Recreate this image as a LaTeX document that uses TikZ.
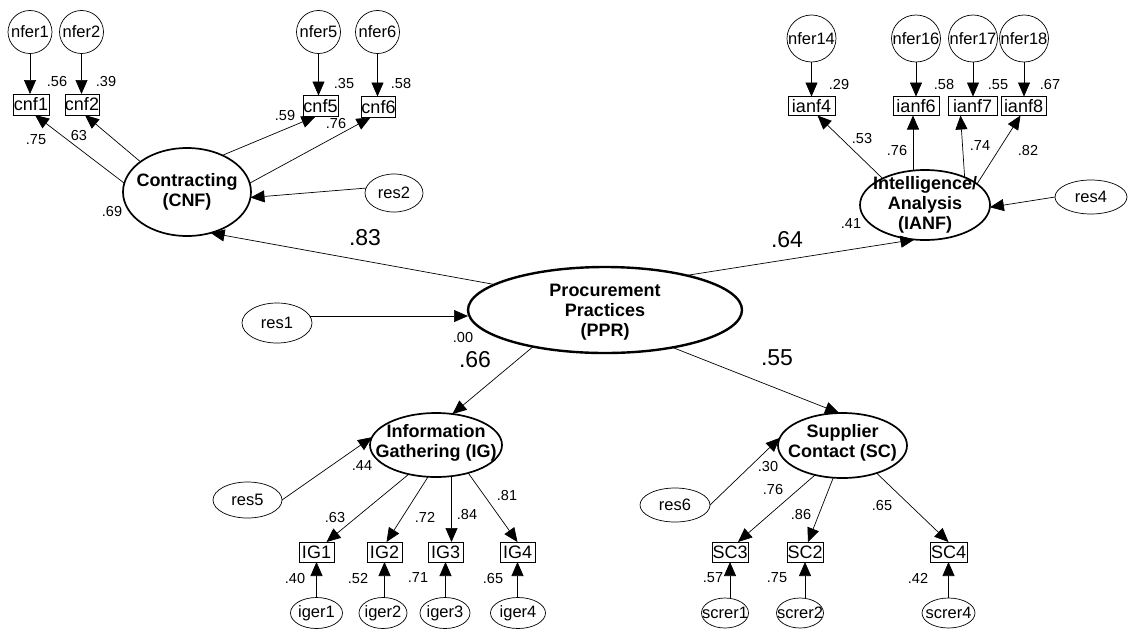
\documentclass[tikz,border=0pt]{standalone}
\usepackage{fontspec}
\setmainfont{Liberation Sans}
\usetikzlibrary{shapes.geometric,arrows.meta}
\begin{document}
\begin{tikzpicture}[x=1pt,y=-1pt,
  every node/.style={inner sep=0pt, outer sep=0pt},
  lat/.style={ellipse, draw, line width=1.7pt},
  ppr/.style={ellipse, draw, line width=2.4pt},
  ltxt/.style={font=\fontsize{18}{20}\selectfont\bfseries, align=center},
  err/.style={ellipse, draw, line width=0.7pt},
  etxt/.style={font=\fontsize{16.5}{18}\selectfont},
  obs/.style={rectangle, draw, line width=0.7pt, font=\fontsize{18}{19}\selectfont},
  coef/.style={font=\fontsize{14.5}{15}\selectfont},
  big/.style={font=\fontsize{23}{24}\selectfont},
  arr/.style={line width=0.7pt, -{Triangle[length=14pt,width=12pt]}},
]
\useasboundingbox[fill=white] (0,0) rectangle (1131,635);

% ---------- latent variables ----------
\node[lat, minimum width=128pt, minimum height=88pt] (CNF) at (187,192) {};
\node[ltxt] at (CNF) {Contracting\\(CNF)};
\node[lat, minimum width=130pt, minimum height=70pt] (IANF) at (925,205) {};
\node[ltxt] at (IANF) {Intelligence/\\Analysis\\(IANF)};
\node[ppr, minimum width=274pt, minimum height=86pt] (PPR) at (605,310) {};
\node[ltxt] at (605,312) {Procurement\\Practices\\(PPR)};
\node[lat, minimum width=132pt, minimum height=64pt] (IG) at (436,445) {};
\node[ltxt] at (436,443) {Information\\Gathering (IG)};
\node[lat, minimum width=129pt, minimum height=65pt] (SC) at (842.5,445.5) {};
\node[ltxt] at (842.5,443) {Supplier\\Contact (SC)};

% ---------- residuals ----------
\node[err, minimum width=70pt, minimum height=40pt] (res1) at (277,323) {};
\node[etxt] at (res1) {res1};
\node[err, minimum width=58pt, minimum height=38pt] (res2) at (394,193) {};
\node[etxt] at (res2) {res2};
\node[err, minimum width=72pt, minimum height=34pt] (res4) at (1091,197) {};
\node[etxt] at (res4) {res4};
\node[err, minimum width=69pt, minimum height=36pt] (res5) at (247.5,500) {};
\node[etxt] at (res5) {res5};
\node[err, minimum width=70pt, minimum height=34pt] (res6) at (675,505) {};
\node[etxt] at (res6) {res6};

% ---------- contracting indicators ----------
\foreach \n/\x in {nfer1/30, nfer2/81.5, nfer5/318.5, nfer6/377.5}{
  \node[err, minimum width=44pt, minimum height=43pt] (\n) at (\x,32) {};
  \node[etxt] at (\n) {\n};
}
\node[obs, minimum width=36pt, minimum height=21pt] (cnf1) at (31,104.5) {cnf1};
\node[obs, minimum width=34pt, minimum height=21pt] (cnf2) at (82,104.5) {cnf2};
\node[obs, minimum width=35pt, minimum height=21pt] (cnf5) at (320.5,106) {cnf5};
\node[obs, minimum width=34pt, minimum height=21pt] (cnf6) at (378.5,107) {cnf6};

% ---------- intelligence indicators ----------
\foreach \n/\x in {nfer14/811.5, nfer16/916, nfer17/973, nfer18/1024}{
  \node[err, minimum width=49pt, minimum height=47pt] (\n) at (\x,38.5) {};
  \node[etxt] at (\n) {\n};
}
\node[obs, minimum width=47pt, minimum height=19pt] (ianf4) at (811.5,106) {ianf4};
\node[obs, minimum width=46pt, minimum height=19pt] (ianf6) at (916,106) {ianf6};
\node[obs, minimum width=49pt, minimum height=19pt] (ianf7) at (972.5,106) {ianf7};
\node[obs, minimum width=45pt, minimum height=19pt] (ianf8) at (1023.5,106) {ianf8};

% ---------- information gathering indicators ----------
\node[obs, minimum width=35pt, minimum height=20pt] (IG1) at (316.5,552) {IG1};
\node[obs, minimum width=35pt, minimum height=20pt] (IG2) at (384.5,552) {IG2};
\node[obs, minimum width=35pt, minimum height=20pt] (IG3) at (445.5,552) {IG3};
\node[obs, minimum width=35pt, minimum height=20pt] (IG4) at (517.5,552) {IG4};
\foreach \n/\x/\w in {iger1/316.5/52, iger2/383/48, iger3/445/50, iger4/518/55}{
  \node[err, minimum width=\w pt, minimum height=31pt] (\n) at (\x,613) {};
  \node[etxt] at (\n) {\n};
}

% ---------- supplier contact indicators ----------
\node[obs, minimum width=36pt, minimum height=20pt] (SC3) at (730,552) {SC3};
\node[obs, minimum width=36pt, minimum height=20pt] (SC2) at (805,552) {SC2};
\node[obs, minimum width=37pt, minimum height=20pt] (SC4) at (948.5,552) {SC4};
\foreach \n/\x/\w in {screr1/725/47, screr2/800/47, screr4/948.5/53}{
  \node[err, minimum width=\w pt, minimum height=30pt] (\n) at (\x,613) {};
  \node[etxt] at (\n) {\n};
}

% ---------- error -> indicator arrows ----------
\foreach \e/\o in {nfer1/cnf1, nfer2/cnf2, nfer5/cnf5, nfer6/cnf6,
                   nfer14/ianf4, nfer16/ianf6, nfer17/ianf7, nfer18/ianf8}
  \draw[arr] (\e.south) -- (\e.south |- \o.north);
\foreach \e/\o in {iger1/IG1, iger2/IG2, iger3/IG3, iger4/IG4,
                   screr1/SC3, screr2/SC2, screr4/SC4}
  \draw[arr] (\o.south |- \e.north) -- (\o.south);

% ---------- latent -> indicator arrows ----------
\draw[arr] (CNF.172) -- ([xshift=4pt]cnf1.south);
\draw[arr] (CNF.147) -- ([xshift=3pt]cnf2.south);
\draw[arr] (CNF.46) -- ([xshift=-5pt]cnf5.south);
\draw[arr] (CNF.8) -- ([xshift=-8pt]cnf6.south);
\draw[arr] (res2.170) -- (CNF.-5);

\draw[arr] (IANF.148) -- ([xshift=6pt]ianf4.south);
\draw[arr] ([xshift=-3pt]ianf6.south |- IANF.north) -- ([xshift=-3pt]ianf6.south);
\draw[arr] (IANF.35) -- ([xshift=-12pt]ianf7.south);
\draw[arr] (IANF.22) -- ([xshift=-3pt]ianf8.south);
\draw[arr] (res4.west) -- (IANF.-2);

\draw[arr] (IG.227) -- ([xshift=10pt]IG1.north);
\draw[arr] (IG.256) -- ([xshift=2pt]IG2.north);
\draw[arr] ([xshift=6pt]IG3.north |- IG.south) -- ([xshift=6pt]IG3.north);
\draw[arr] (IG.-41) -- (IG4.north);
\draw[arr] (res5.east) -- (IG.173);

\draw[arr] (SC.227) -- ([xshift=8pt]SC3.north);
\draw[arr] (SC.254) -- ([xshift=3pt]SC2.north);
\draw[arr] (SC.-39) -- (SC4.north);
\draw[arr] (res6.east) -- (SC.173);

% ---------- structural arrows ----------
\draw[arr] (PPR.167) -- (CNF.-60);
\draw[arr] (PPR.23) -- (IANF.-107);
\draw[arr] (PPR.207) -- (IG.62);
\draw[arr] (PPR.-29) -- (SC.96);
\draw[arr] (res1.12) -- (res1.12 -| PPR.west);

% ---------- coefficients ----------
\node[coef] at (57,82) {.56};
\node[coef] at (106,82) {.39};
\node[coef] at (344,84) {.35};
\node[coef] at (401,84) {.58};
\node[coef] at (36,140) {.75};
\node[coef] at (79,136) {63};
\node[coef] at (285,116) {.59};
\node[coef] at (336,124) {.76};
\node[coef] at (112,212) {.69};

\node[coef] at (839,85) {.29};
\node[coef] at (944,85) {.58};
\node[coef] at (998,85) {.55};
\node[coef] at (1050,85) {.67};
\node[coef] at (862,139) {.53};
\node[coef] at (897,151) {.76};
\node[coef] at (980,146) {.74};
\node[coef] at (1028,151) {.82};
\node[coef] at (851,224) {.41};

\node[coef] at (463,338) {.00};
\node[big] at (365,238) {.83};
\node[big] at (787,240) {.64};
\node[big] at (475,360) {.66};
\node[big] at (777,358) {.55};

\node[coef] at (362,466) {.44};
\node[coef] at (335,517) {.63};
\node[coef] at (425,517) {.72};
\node[coef] at (467,514) {.84};
\node[coef] at (507,495) {.81};
\node[coef] at (295,578) {.40};
\node[coef] at (358,578) {.52};
\node[coef] at (418,578) {.71};
\node[coef] at (493,578) {.65};

\node[coef] at (768,466) {.30};
\node[coef] at (773,489) {.76};
\node[coef] at (801,514) {.86};
\node[coef] at (882,505) {.65};
\node[coef] at (713,578) {.57};
\node[coef] at (777,578) {.75};
\node[coef] at (918,578) {.42};
\end{tikzpicture}
\end{document}
